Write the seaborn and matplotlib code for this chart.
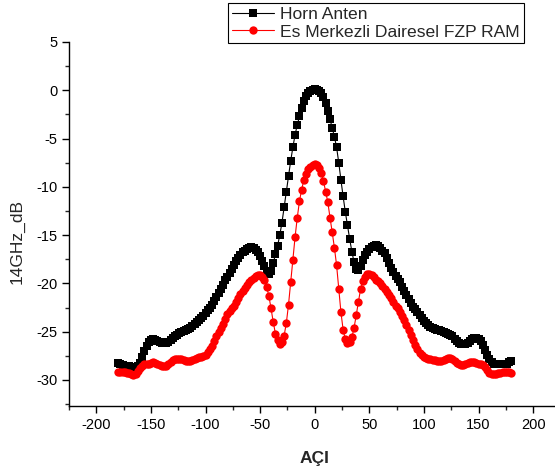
import numpy as np
import pandas as pd
import matplotlib
matplotlib.use("Agg")
import matplotlib.pyplot as plt
import seaborn as sns
from matplotlib.ticker import MultipleLocator

# Measurement angles (degrees), 2-degree sweep
angles = list(range(-180, 182, 2))

# Reference horn antenna pattern at 14 GHz (dB)
horn_db = [
    -28.2, -28.4, -28.5, -28.6, -28.6, -28.6, -28.7, -28.7, -28.7, -28.6,
    -28.2, -27.6, -27.0, -26.5, -26.1, -25.9, -25.8, -25.9, -26.0, -26.1,
    -26.2, -26.2, -26.2, -26.1, -25.9, -25.7, -25.5, -25.3, -25.1, -25.0,
    -24.9, -24.8, -24.7, -24.6, -24.4, -24.2, -24.0, -23.8, -23.6, -23.4,
    -23.1, -22.8, -22.5, -22.2, -21.8, -21.4, -21.0, -20.6, -20.2, -19.7,
    -19.3, -18.9, -18.5, -18.1, -17.7, -17.4, -17.1, -16.8, -16.6, -16.4,
    -16.3, -16.2, -16.3, -16.5, -16.8, -17.2, -17.7, -18.2, -18.7, -19.0,
    -18.7, -17.9, -17.0, -16.1, -15.0, -13.7, -12.1, -10.5, -8.9, -7.3,
    -5.9, -4.6, -3.6, -2.7, -1.8, -1.1, -0.6, -0.3, -0.1, 0.0,
    0.1,
    0.0, -0.1, -0.3, -0.7, -1.3, -2.1, -3.0, -3.9, -4.8, -5.9,
    -7.5, -9.3, -11.0, -12.6, -14.0, -15.4, -16.7, -17.8, -18.5, -18.6,
    -18.2, -17.6, -17.1, -16.7, -16.4, -16.2, -16.1, -16.0, -16.1, -16.3,
    -16.6, -16.9, -17.4, -17.9, -18.4, -18.8, -19.2, -19.5, -19.9, -20.4,
    -20.8, -21.2, -21.6, -22.0, -22.4, -22.7, -23.0, -23.3, -23.6, -23.9,
    -24.1, -24.3, -24.5, -24.6, -24.7, -24.8, -24.8, -24.9, -25.0, -25.1,
    -25.2, -25.3, -25.5, -25.8, -26.0, -26.2, -26.3, -26.3, -26.3, -26.2,
    -26.0, -25.8, -25.7, -25.7, -25.8, -26.0, -26.4, -26.9, -27.4, -27.8,
    -28.1, -28.3, -28.4, -28.4, -28.4, -28.4, -28.4, -28.3, -28.1, -28.0,
]

# Concentric circular FZP RAM pattern at 14 GHz (dB)
fzp_db = [
    -29.2, -29.2, -29.2, -29.2, -29.3, -29.3, -29.4, -29.5, -29.4, -29.1,
    -28.8, -28.6, -28.4, -28.3, -28.3, -28.2, -28.1, -28.2, -28.3, -28.5,
    -28.6, -28.6, -28.6, -28.4, -28.1, -27.9, -27.8, -27.8, -27.8, -27.8,
    -27.9, -28.0, -28.0, -28.0, -27.9, -27.8, -27.7, -27.6, -27.6, -27.5,
    -27.4, -27.1, -26.8, -26.5, -26.0, -25.5, -25.0, -24.6, -24.2, -23.7,
    -23.2, -22.9, -22.6, -22.3, -21.9, -21.5, -21.1, -20.8, -20.5, -20.2,
    -19.9, -19.6, -19.4, -19.2, -19.1, -19.1, -19.3, -19.7, -20.4, -21.3,
    -22.6, -24.0, -25.2, -25.9, -26.3, -26.1, -25.4, -24.1, -22.2, -19.9,
    -17.6, -15.2, -13.2, -11.5, -10.3, -9.3, -8.7, -8.2, -7.9, -7.7,
    -7.6,
    -7.7, -8.0, -8.6, -9.4, -10.5, -11.6, -13.2, -14.7, -16.3, -18.1,
    -20.6, -23.0, -24.8, -25.8, -26.2, -26.1, -25.6, -24.6, -23.3, -21.9,
    -20.6, -19.8, -19.3, -19.0, -19.0, -19.1, -19.3, -19.6, -19.8, -20.0,
    -20.3, -20.6, -20.9, -21.2, -21.5, -21.9, -22.3, -22.6, -23.0, -23.4,
    -23.8, -24.3, -24.8, -25.3, -25.9, -26.4, -26.8, -27.2, -27.4, -27.6,
    -27.7, -27.8, -27.8, -27.9, -27.9, -28.0, -28.0, -28.0, -27.9, -27.8,
    -27.7, -27.7, -27.8, -28.0, -28.2, -28.4, -28.5, -28.5, -28.4, -28.2,
    -28.1, -28.1, -28.1, -28.2, -28.3, -28.4, -28.5, -28.7, -29.0, -29.3,
    -29.4, -29.4, -29.4, -29.3, -29.3, -29.2, -29.2, -29.2, -29.2, -29.3,
]

series_names = ["Horn Anten", "Es Merkezli Dairesel FZP RAM"]
x_ticks = [-200, -150, -100, -50, 0, 50, 100, 150, 200]
y_ticks = [-30, -25, -20, -15, -10, -5, 0, 5]

sns.set_style("ticks")
plt.rcParams["font.family"] = ["Liberation Sans", "DejaVu Sans"]
plt.rcParams["axes.unicode_minus"] = False

df = pd.DataFrame({
    "angle": angles * 2,
    "db": horn_db + fzp_db,
    "series": [series_names[0]] * len(angles) + [series_names[1]] * len(angles),
})

fig = plt.figure(figsize=(5.55, 4.73), dpi=100)
ax = fig.add_axes([69 / 555, 1 - 406 / 473, 1 - 69 / 555, (406 - 42) / 473])

sns.lineplot(
    data=df, x="angle", y="db", hue="series", style="series",
    palette=["black", "red"], markers=["s", "o"], dashes=False,
    markersize=6, markeredgewidth=0, linewidth=0.8, ax=ax,
)

ax.set_xlim(-225, 220)
ax.set_ylim(-32.7, 5)
ax.set_xticks(x_ticks)
ax.set_yticks(y_ticks)
ax.xaxis.set_minor_locator(MultipleLocator(25))
ax.yaxis.set_minor_locator(MultipleLocator(2.5))
ax.tick_params(axis="both", which="major", direction="out", length=5, width=1,
               labelsize=10.5, colors="black")
ax.tick_params(axis="both", which="minor", direction="out", length=3, width=1)

for side in ["top", "right"]:
    ax.spines[side].set_visible(False)
for side in ["left", "bottom"]:
    ax.spines[side].set_linewidth(1.0)
    ax.spines[side].set_color("black")

ax.set_xlabel("AÇI", fontsize=12.5, fontweight="bold")
ax.set_ylabel("14GHz_dB", fontsize=12.5)
ax.xaxis.set_label_coords((314 - 69) / 486, -(451 - 406) / 364)
ax.yaxis.set_label_coords(-(69 - 25) / 486, (406 - 242) / 364)

handles, labels = ax.get_legend_handles_labels()
leg = ax.legend(
    handles, labels, loc="upper left",
    bbox_to_anchor=(228 / 555, 1 - 3 / 473), bbox_transform=fig.transFigure,
    borderaxespad=0, fancybox=False, frameon=True, edgecolor="black",
    framealpha=1, fontsize=12.6, handlelength=2.4, handletextpad=0.4,
    borderpad=0.2, labelspacing=0.15,
)
leg.get_frame().set_linewidth(0.8)

fig.savefig("out.png", dpi=100)
